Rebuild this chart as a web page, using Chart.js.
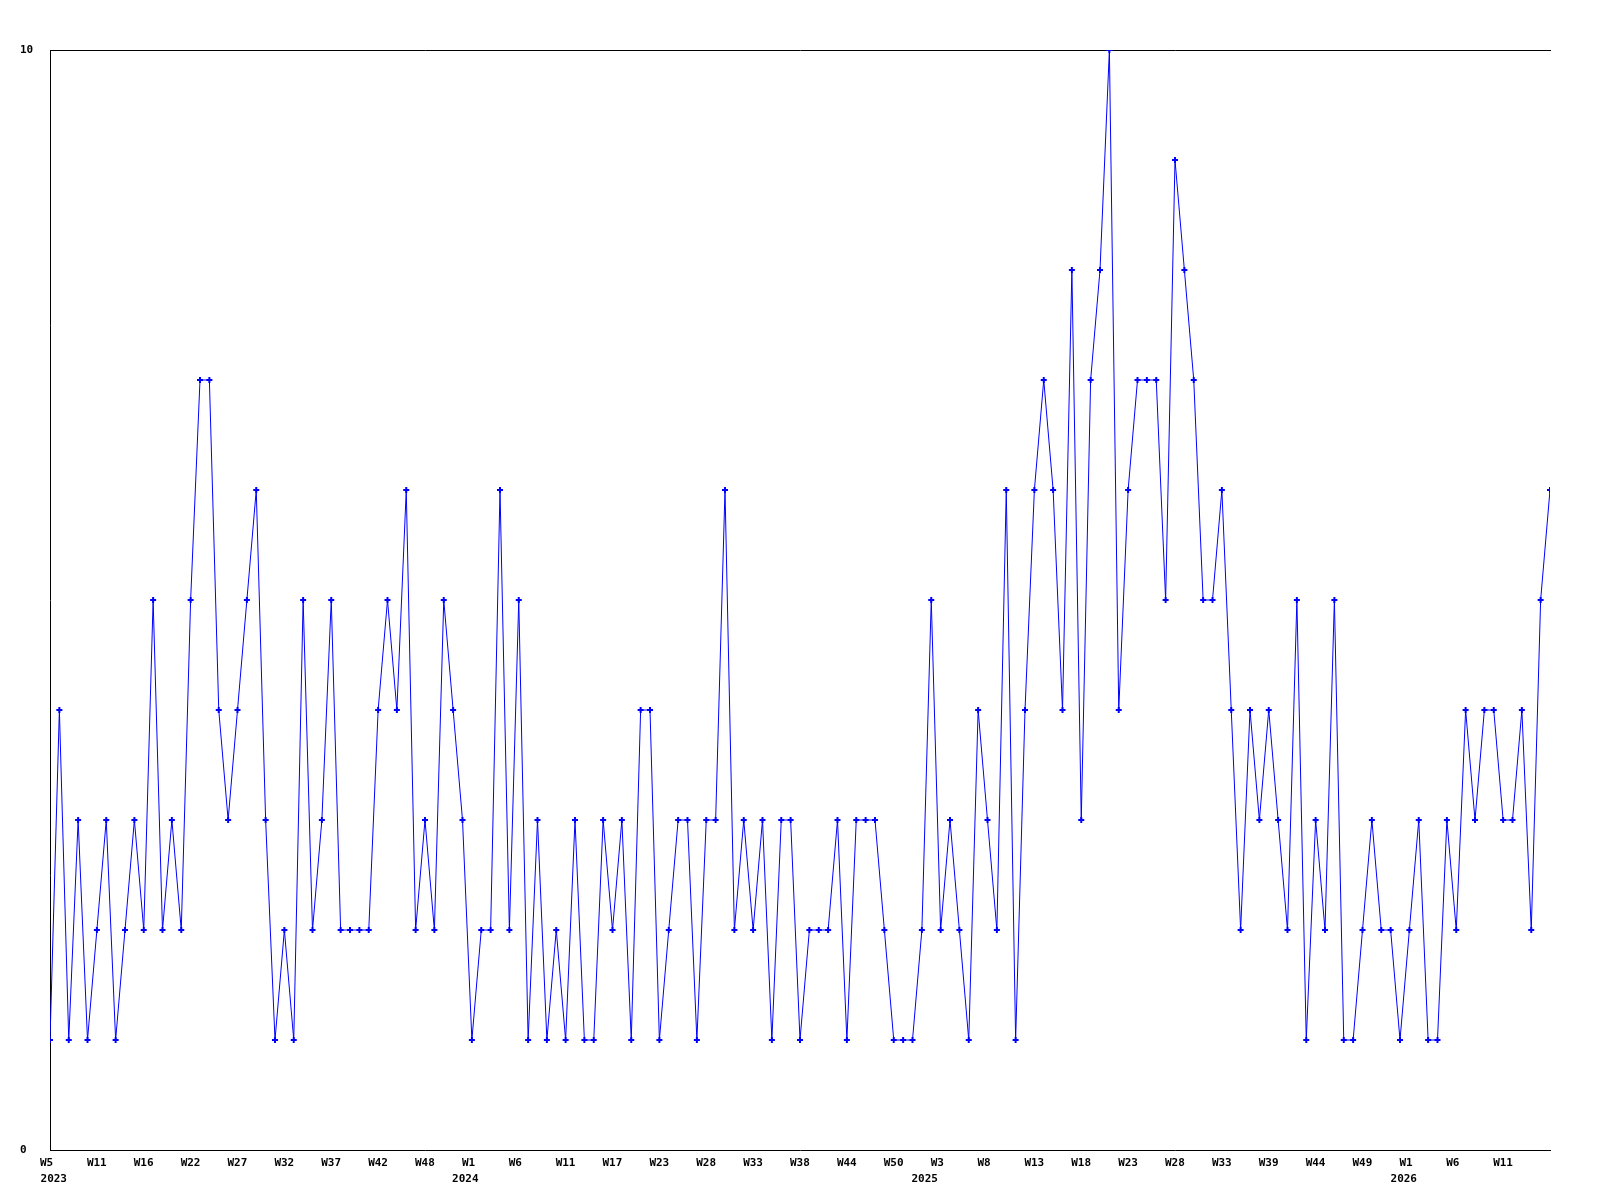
<!DOCTYPE html>
<html lang="en">
<head>
    <meta charset="UTF-8">
    <title>Weekly count</title>
    <style>
        body { margin: 0; background: #fff; }
        canvas { display: block; }
    </style>
</head>
<body>
    <canvas id="weekChart" width="1600" height="1200"></canvas>

    <script src="https://cdn.jsdelivr.net/npm/chart.js"></script>
    <script>
        // one value per point, starting 2023 W5
        const values = [
            1, 4, 1, 3, 1, 2, 3, 1, 2, 3,
            2, 5, 2, 3, 2, 5, 7, 7, 4, 3,
            4, 5, 6, 3, 1, 2, 1, 5, 2, 3,
            5, 2, 2, 2, 2, 4, 5, 4, 6, 2,
            3, 2, 5, 4, 3, 1, 2, 2, 6, 2,
            5, 1, 3, 1, 2, 1, 3, 1, 1, 3,
            2, 3, 1, 4, 4, 1, 2, 3, 3, 1,
            3, 3, 6, 2, 3, 2, 3, 1, 3, 3,
            1, 2, 2, 2, 3, 1, 3, 3, 3, 2,
            1, 1, 1, 2, 5, 2, 3, 2, 1, 4,
            3, 2, 6, 1, 4, 6, 7, 6, 4, 8,
            3, 7, 8, 10, 4, 6, 7, 7, 7, 5,
            9, 8, 7, 5, 5, 6, 4, 2, 4, 3,
            4, 3, 2, 5, 1, 3, 2, 5, 1, 1,
            2, 3, 2, 2, 1, 2, 3, 1, 1, 3,
            2, 4, 3, 4, 4, 3, 3, 4, 2, 5,
            6
        ];

        // a week label on every 5th point
        const weekLabels = ['W5', 'W11', 'W16', 'W22', 'W27', 'W32', 'W37', 'W42', 'W48',
            'W1', 'W6', 'W11', 'W17', 'W23', 'W28', 'W33', 'W38', 'W44', 'W50',
            'W3', 'W8', 'W13', 'W18', 'W23', 'W28', 'W33', 'W39', 'W44', 'W49',
            'W1', 'W6', 'W11'];
        const labelStep = 5;
        const yearLabels = ['2023', '2024', '2025', '2026'];
        const yearTickAt = [0.4, 44.3, 93.3, 144.4];
        const yTicks = [0, 10];

        Chart.defaults.font.family = "'DejaVu Sans Mono', monospace";
        Chart.defaults.font.size = 11;
        Chart.defaults.font.weight = 'bold';
        Chart.defaults.color = '#000';

        const points = values.map((v, i) => ({ x: i, y: v }));
        const lastIndex = values.length - 1;

        const hiddenGrid = {
            display: true,
            drawOnChartArea: false,
            drawTicks: false
        };

        const config = {
            type: 'line',
            data: {
                datasets: [{
                    data: points,
                    borderColor: '#0000ff',
                    backgroundColor: '#0000ff',
                    borderWidth: 1,
                    tension: 0,
                    pointStyle: 'cross',
                    pointRadius: 3,
                    pointBorderWidth: 2,
                    pointHoverRadius: 3
                }]
            },
            options: {
                responsive: false,
                animation: false,
                layout: {
                    padding: { left: 20, right: 50, top: 40, bottom: 15 }
                },
                scales: {
                    x: {
                        type: 'linear',
                        position: 'bottom',
                        min: 0,
                        max: lastIndex,
                        grid: hiddenGrid,
                        border: { display: true, color: '#000', width: 1 },
                        afterBuildTicks: axis => {
                            axis.ticks = weekLabels.map((_, k) => ({ value: k * labelStep }));
                        },
                        afterFit: axis => { axis.height = 20; },
                        ticks: {
                            autoSkip: false,
                            maxRotation: 0,
                            minRotation: 0,
                            align: 'start',
                            labelOffset: -10,
                            padding: 7,
                            callback: (value, index) => weekLabels[index]
                        }
                    },
                    xYear: {
                        type: 'linear',
                        position: 'bottom',
                        min: 0,
                        max: lastIndex,
                        grid: { display: false, drawTicks: false },
                        border: { display: false },
                        afterBuildTicks: axis => {
                            axis.ticks = yearTickAt.map(v => ({ value: v }));
                        },
                        afterFit: axis => { axis.height = 15; },
                        ticks: {
                            autoSkip: false,
                            maxRotation: 0,
                            minRotation: 0,
                            padding: 3,
                            callback: (value, index) => yearLabels[index]
                        }
                    },
                    xTop: {
                        type: 'linear',
                        position: 'top',
                        min: 0,
                        max: lastIndex,
                        grid: hiddenGrid,
                        border: { display: true, color: '#000', width: 1 },
                        ticks: { display: false },
                        afterFit: axis => { axis.height = 10; }
                    },
                    y: {
                        min: 0,
                        max: 10,
                        grid: hiddenGrid,
                        border: { display: true, color: '#000', width: 1 },
                        afterBuildTicks: axis => {
                            axis.ticks = yTicks.map(v => ({ value: v }));
                        },
                        afterFit: axis => { axis.width = 30; },
                        ticks: {
                            crossAlign: 'far',
                            padding: 0
                        }
                    }
                },
                plugins: {
                    legend: { display: false },
                    tooltip: { enabled: false }
                }
            }
        };

        const weekChart = new Chart(document.getElementById('weekChart'), config);
    </script>
</body>
</html>
